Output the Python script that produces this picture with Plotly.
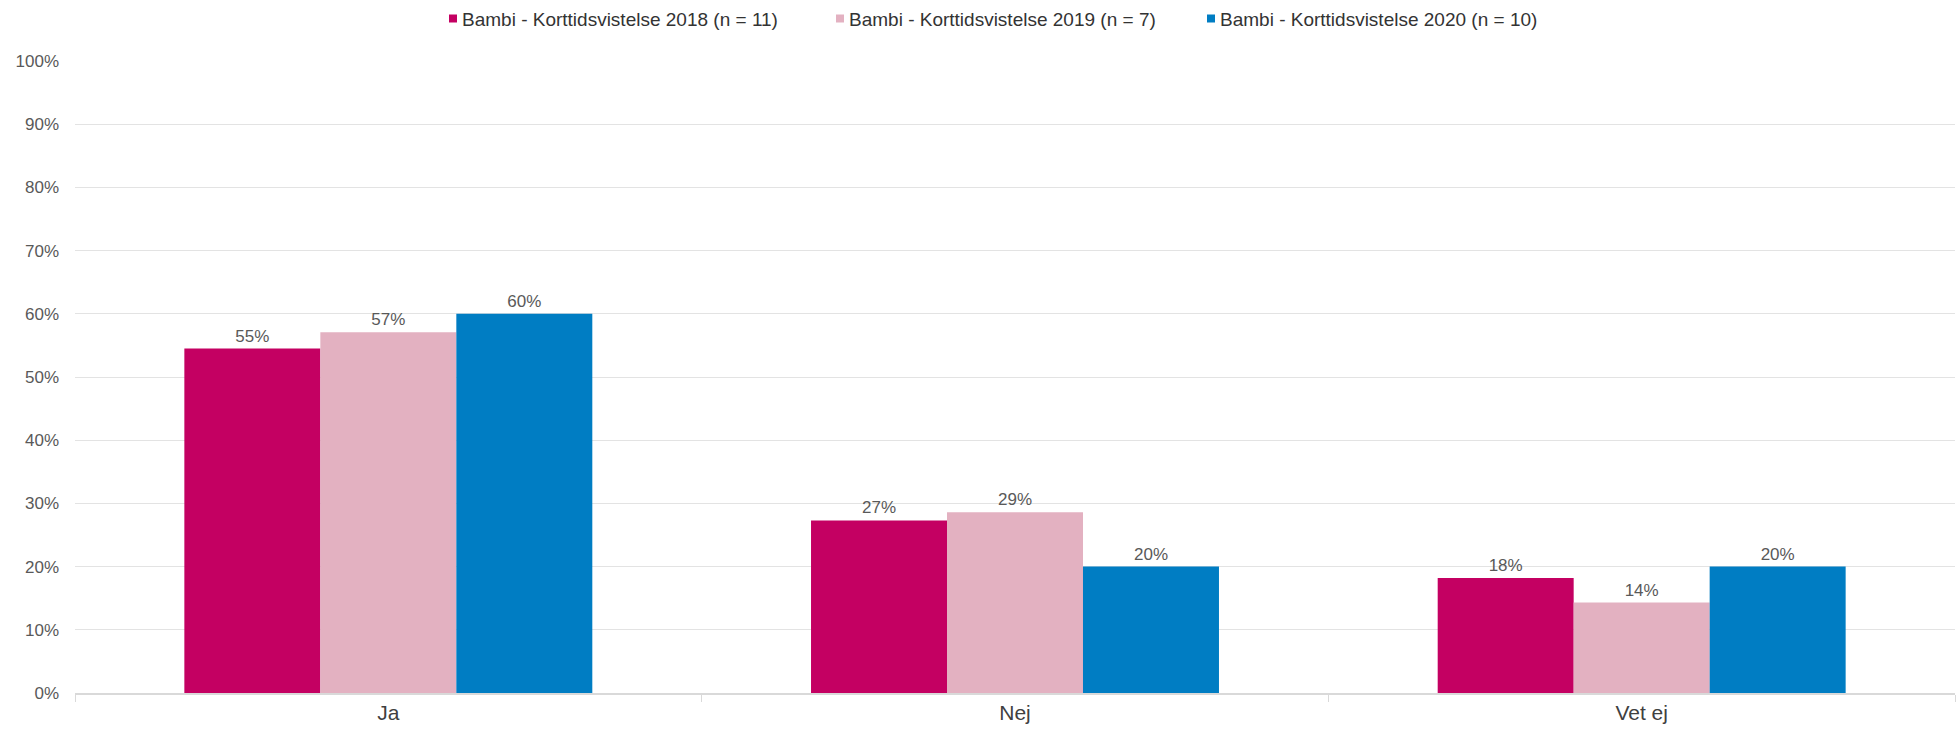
import plotly.graph_objects as go

# Survey answers per year, share of respondents (%)
categories = ["Ja", "Nej", "Vet ej"]
series_names = [
    "Bambi - Korttidsvistelse 2018 (n = 11)",
    "Bambi - Korttidsvistelse 2019 (n = 7)",
    "Bambi - Korttidsvistelse 2020 (n = 10)",
]
values_2018 = [54.5, 27.3, 18.2]
values_2019 = [57.1, 28.6, 14.3]
values_2020 = [60.0, 20.0, 20.0]
colors = ["#C40062", "#E3B1C1", "#007DC3"]
y_ticks = [0, 10, 20, 30, 40, 50, 60, 70, 80, 90, 100]

FONT = "Liberation Sans, Arial, sans-serif"
W, H = 1960, 731
M_L, M_R, M_T, M_B = 75, 5, 61, 38
plot_w = W - M_L - M_R
plot_h = H - M_T - M_B

fig = go.Figure()
for name, vals, col in zip(series_names, [values_2018, values_2019, values_2020], colors):
    fig.add_trace(go.Bar(
        x=categories,
        y=vals,
        name=name,
        marker=dict(color=col, line=dict(width=0)),
        texttemplate="%{y:.0f}%",
        textposition="outside",
        textfont=dict(family=FONT, size=17, color="#595959"),
        cliponaxis=False,
        showlegend=False,
        hoverinfo="skip",
    ))


def px_x(px):
    return (px - M_L) / plot_w


def px_y(py):
    return (H - M_B - py) / plot_h


# Legend row along the top: small square swatch followed by the series name
legend_x = [449, 836, 1207]
legend_cy = 18.5
shapes = []
annotations = []
for lx, name, col in zip(legend_x, series_names, colors):
    shapes.append(dict(
        type="rect", xref="paper", yref="paper",
        x0=px_x(lx), x1=px_x(lx + 8),
        y0=px_y(legend_cy + 4), y1=px_y(legend_cy - 4),
        fillcolor=col, line=dict(width=0), layer="above",
    ))
    annotations.append(dict(
        xref="paper", yref="paper", x=px_x(lx + 11), y=px_y(legend_cy + 1),
        xanchor="left", yanchor="middle", showarrow=False,
        text=name, font=dict(family=FONT, size=19, color="#333333"),
    ))

fig.update_layout(
    width=W, height=H,
    margin=dict(l=M_L, r=M_R, t=M_T, b=M_B, pad=0),
    paper_bgcolor="white", plot_bgcolor="white",
    barmode="group", bargap=0.349, bargroupgap=0,
    shapes=shapes, annotations=annotations,
    showlegend=False,
    font=dict(family=FONT),
)
fig.update_xaxes(
    showgrid=False, zeroline=False,
    showline=True, linecolor="#D9D9D9", linewidth=2,
    ticks="outside", tickson="boundaries", ticklen=7, tickcolor="#D9D9D9", tickwidth=1,
    tickfont=dict(family=FONT, size=21, color="#404040"),
)
fig.update_yaxes(
    range=[0, 100], tickvals=y_ticks, ticktext=[f"{v}%" for v in y_ticks],
    showgrid=True, gridcolor="#E3E3E3", gridwidth=1,
    zeroline=False, showline=False, ticks="",
    ticklabelstandoff=15,
    tickfont=dict(family=FONT, size=17, color="#595959"),
)

fig.write_html("out.html")
